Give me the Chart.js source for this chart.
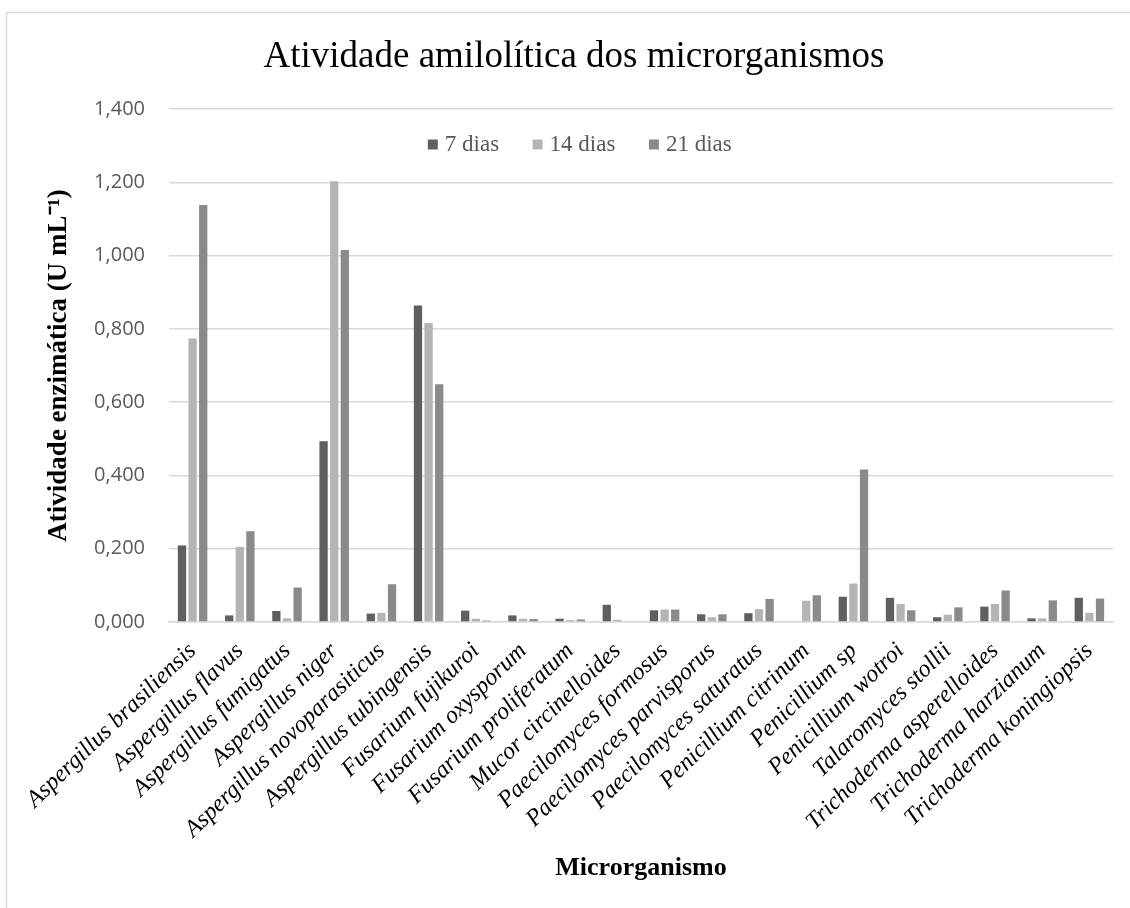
<!DOCTYPE html>
<html>
<head>
<meta charset="utf-8">
<title>Atividade amilolítica dos microrganismos</title>
<script src="https://cdn.jsdelivr.net/npm/chart.js@4/dist/chart.umd.min.js"></script>
<style>
  html, body { margin: 0; padding: 0; background: #ffffff; }
  canvas { display: block; }
</style>
</head>
<body>
<canvas id="chart" width="1130" height="908"></canvas>
<script>
// Microorganisms tested
const categories = [
  'Aspergillus brasiliensis', 'Aspergillus flavus', 'Aspergillus fumigatus', 'Aspergillus niger',
  'Aspergillus novoparasiticus', 'Aspergillus tubingensis', 'Fusarium fujikuroi', 'Fusarium oxysporum',
  'Fusarium proliferatum', 'Mucor circinelloides', 'Paecilomyces formosus', 'Paecilomyces parvisporus',
  'Paecilomyces saturatus', 'Penicillium citrinum', 'Penicillium sp', 'Penicillium wotroi',
  'Talaromyces stollii', 'Trichoderma asperelloides', 'Trichoderma harzianum', 'Trichoderma koningiopsis'
];

// Series names (incubation time)
const seriesNames = ['7 dias', '14 dias', '21 dias'];

// Enzymatic activity (U mL-1) per incubation time
const dias7  = [0.209, 0.018, 0.030, 0.493, 0.023, 0.864, 0.031, 0.018, 0.009, 0.047,
                0.032, 0.021, 0.024, 0.000, 0.069, 0.066, 0.013, 0.042, 0.010, 0.066];
const dias14 = [0.774, 0.205, 0.010, 1.203, 0.025, 0.816, 0.009, 0.009, 0.005, 0.006,
                0.034, 0.013, 0.035, 0.058, 0.105, 0.049, 0.020, 0.049, 0.010, 0.025];
const dias21 = [1.138, 0.248, 0.094, 1.015, 0.103, 0.649, 0.004, 0.008, 0.007, 0.000,
                0.034, 0.021, 0.063, 0.073, 0.416, 0.032, 0.040, 0.086, 0.059, 0.064];

// Y axis tick labels (decimal comma)
const yTickLabels = ['0,000', '0,200', '0,400', '0,600', '0,800', '1,000', '1,200', '1,400'];

const seriesColors = ['#5f5f5f', '#b4b4b4', '#8a8a8a'];
const serif = "'Liberation Serif', 'Times New Roman', serif";

// White background plus the light frame along the top and left edges
const framePlugin = {
  id: 'frame',
  beforeDraw(chart) {
    const ctx = chart.ctx;
    ctx.save();
    ctx.fillStyle = '#ffffff';
    ctx.fillRect(0, 0, chart.width, chart.height);
    ctx.strokeStyle = '#d9d9d9';
    ctx.lineWidth = 1.5;
    ctx.beginPath();
    ctx.moveTo(6.5, chart.height);
    ctx.lineTo(6.5, 12.5);
    ctx.lineTo(chart.width, 12.5);
    ctx.stroke();
    ctx.restore();
  }
};

// Legend sits inside the plot, just below the top gridline, without taking layout space
const legendInPlot = {
  id: 'legendInPlot',
  beforeLayout(chart) {
    const lg = chart.legend;
    if (lg && !lg.__inPlot) {
      const fit = lg.fit;
      lg.fit = function () { fit.call(this); this.__h = this.height; this.height = 0; };
      lg.__inPlot = true;
    }
  },
  afterLayout(chart) {
    const lg = chart.legend;
    if (lg) {
      const h = Math.max(lg.__h || 0, 80);
      lg.left = 0; lg.right = 1164; lg.width = 1164;
      lg.top = 95; lg.height = h; lg.bottom = 95 + h;
    }
    const tb = chart.titleBlock;
    if (tb) { tb.left = 18; tb.right = 1130; tb.width = 1112; }
  }
};

const datasets = [dias7, dias14, dias21].map((values, i) => ({
  label: seriesNames[i],
  data: values,
  backgroundColor: seriesColors[i],
  borderWidth: 0,
  categoryPercentage: 0.675,
  barPercentage: 0.78
}));

new Chart(document.getElementById('chart'), {
  type: 'bar',
  data: { labels: categories, datasets },
  plugins: [framePlugin, legendInPlot],
  options: {
    responsive: false,
    animation: false,
    devicePixelRatio: 1,
    layout: { padding: { left: 0, right: 17, top: 0, bottom: 0 } },
    plugins: {
      title: {
        display: true,
        text: 'Atividade amilolítica dos microrganismos',
        color: '#000000',
        font: { family: serif, size: 37, weight: 'normal' },
        padding: { top: 35, bottom: 29.6 }
      },
      legend: {
        display: true,
        position: 'top',
        labels: {
          usePointStyle: true,
          pointStyle: 'rect',
          boxWidth: 1,
          boxHeight: 10,
          padding: 38,
          color: '#595959',
          font: { family: serif, size: 23 }
        }
      },
      tooltip: { enabled: false }
    },
    scales: {
      x: {
        grid: { display: false, drawTicks: false },
        border: { display: true, color: '#d9d9d9', width: 1.5 },
        ticks: {
          autoSkip: false,
          minRotation: 44,
          maxRotation: 44,
          padding: 15,
          color: '#000000',
          font: { family: serif, style: 'italic', size: 24 }
        },
        title: {
          display: true,
          text: 'Microrganismo',
          color: '#000000',
          font: { family: serif, weight: 'bold', size: 26 },
          padding: { top: 0, bottom: 24 }
        },
        afterFit(scale) { scale.height = 286; }
      },
      y: {
        min: 0,
        max: 1.4,
        ticks: {
          stepSize: 0.2,
          padding: 24,
          color: '#595959',
          font: { family: "'Open Sans', 'Liberation Sans', sans-serif", size: 20 },
          callback: (value, index) => yTickLabels[index]
        },
        grid: { color: '#d9d9d9', lineWidth: 1.5, drawTicks: false },
        border: { display: false },
        title: {
          display: true,
          text: 'Atividade enzimática (U mL⁻¹)',
          color: '#000000',
          font: { family: serif, weight: 'bold', size: 27 },
          padding: { top: 43, bottom: 0 }
        },
        afterFit(scale) { scale.width = 169; }
      }
    }
  }
});
</script>
</body>
</html>
